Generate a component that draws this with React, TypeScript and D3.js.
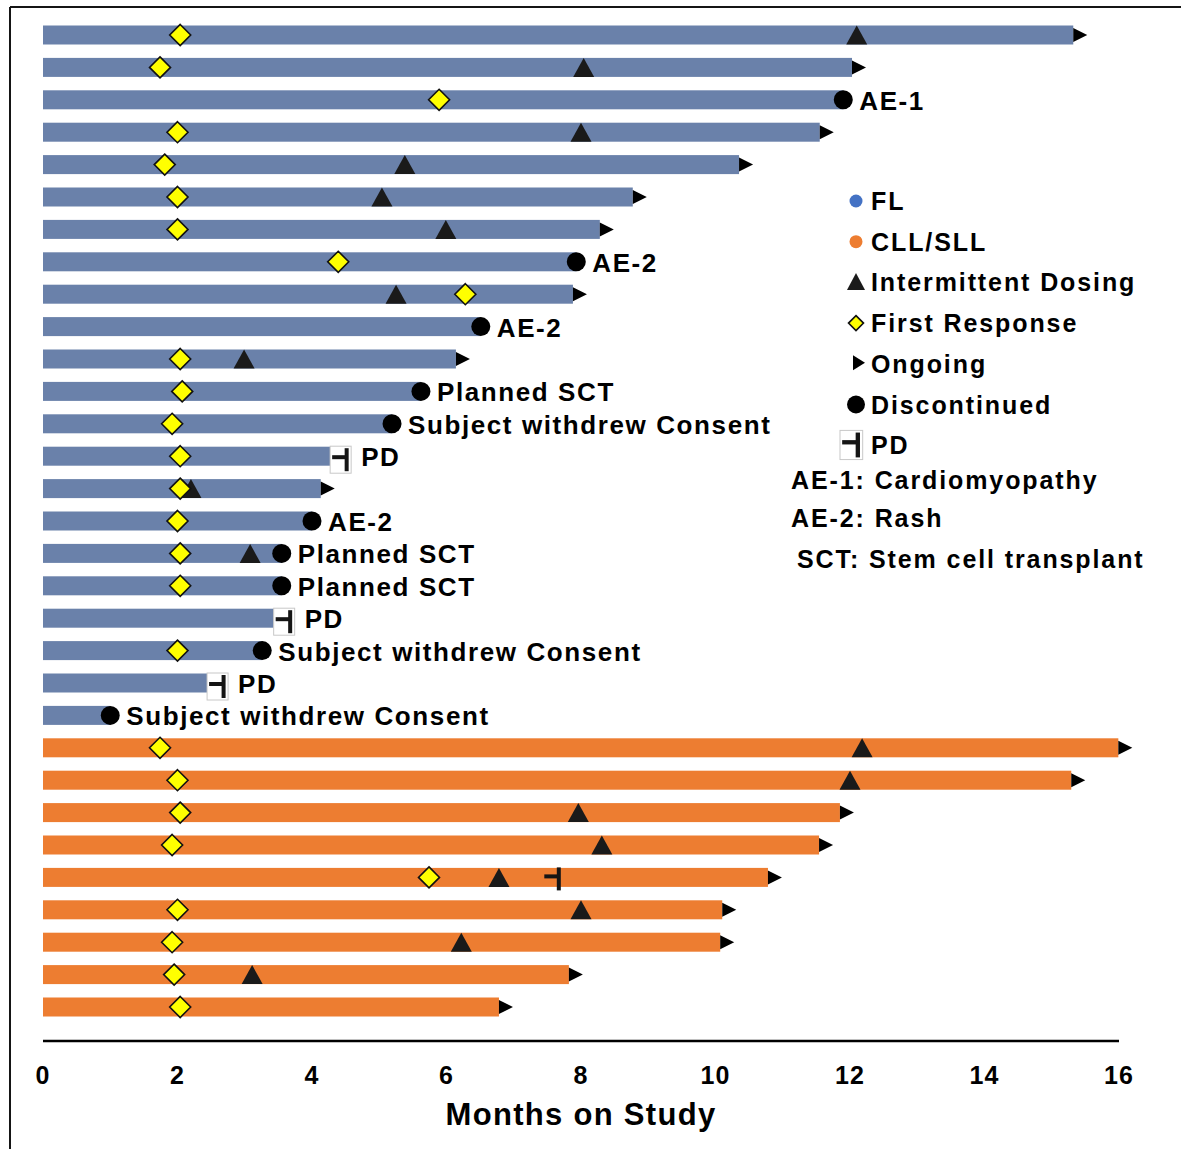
import React from "react";
import * as d3 from "d3";

// ---- Data ----
const groups = [
  "FL","FL","FL","FL","FL","FL","FL","FL","FL","FL","FL",
  "FL","FL","FL","FL","FL","FL","FL","FL","FL","FL","FL",
  "CLL/SLL","CLL/SLL","CLL/SLL","CLL/SLL","CLL/SLL","CLL/SLL","CLL/SLL","CLL/SLL","CLL/SLL",
];
const monthsOnStudy = [
  15.32, 12.03, 11.9, 11.55, 10.35, 8.77, 8.28, 7.93, 7.88, 6.51, 6.14,
  5.62, 5.19, 4.27, 4.13, 4.0, 3.55, 3.55, 3.43, 3.26, 2.44, 1.0,
  15.99, 15.29, 11.85, 11.54, 10.78, 10.1, 10.07, 7.82, 6.78,
];
const firstResponse: (number | null)[] = [
  2.04, 1.74, 5.89, 2.0, 1.81, 2.0, 2.0, 4.39, 6.28, null, 2.04,
  2.07, 1.92, 2.04, 2.04, 2.0, 2.04, 2.04, null, 2.0, null, null,
  1.74, 2.0, 2.04, 1.92, 5.74, 2.0, 1.92, 1.95, 2.04,
];
const intermittentDosing: (number | null)[] = [
  12.1, 8.04, null, 8.0, 5.38, 5.04, 5.99, null, 5.25, null, 2.99,
  null, null, null, 2.2, null, 3.08, null, null, null, null, null,
  12.18, 12.0, 7.96, 8.31, 6.78, 8.0, 6.22, 3.11, null,
];
const progression: (number | null)[] = [
  null, null, null, null, null, null, null, null, null, null, null,
  null, null, 4.27, null, null, null, null, 3.43, null, 2.44, null,
  null, null, null, null, 7.67, null, null, null, null,
];
// "ongoing" | "discontinued" | "pd"
const endStatus = [
  "ongoing","ongoing","discontinued","ongoing","ongoing","ongoing","ongoing","discontinued","ongoing","discontinued","ongoing",
  "discontinued","discontinued","pd","ongoing","discontinued","discontinued","discontinued","pd","discontinued","pd","discontinued",
  "ongoing","ongoing","ongoing","ongoing","ongoing","ongoing","ongoing","ongoing","ongoing",
];
const endLabels = [
  "", "", "AE-1", "", "", "", "", "AE-2", "", "AE-2", "",
  "Planned SCT", "Subject withdrew Consent", "PD", "", "AE-2", "Planned SCT", "Planned SCT", "PD", "Subject withdrew Consent", "PD", "Subject withdrew Consent",
  "", "", "", "", "", "", "", "", "",
];
const xTicks = [0, 2, 4, 6, 8, 10, 12, 14, 16];
const legendItems = ["FL", "CLL/SLL", "Intermittent Dosing", "First Response", "Ongoing", "Discontinued", "PD"];
const footnotes = ["AE-1: Cardiomyopathy", "AE-2: Rash", "SCT: Stem cell transplant"];

// ---- Styles ----
const W = 1181, H = 1149;
const FONT = "'Liberation Sans', Arial, Helvetica, sans-serif";
const barColor: Record<string, string> = { FL: "#6A81AA", "CLL/SLL": "#ED7D31" };
const legendDot: Record<string, string> = { FL: "#4472C4", "CLL/SLL": "#ED7D31" };
const DARK = "#151515";

const x = d3.scaleLinear().domain([0, 16]).range([43, 1119]);
const y = d3.scalePoint<number>().domain(d3.range(monthsOnStudy.length)).range([35, 1007]);
const BAR_H = 19;

function diamondPath(cx: number, cy: number, r: number) {
  return `M${cx},${cy - r}L${cx + r},${cy}L${cx},${cy + r}L${cx - r},${cy}Z`;
}
function trianglePath(cx: number, cy: number, w: number, h: number) {
  return `M${cx - w / 2},${cy + h / 2}L${cx + w / 2},${cy + h / 2}L${cx},${cy - h / 2}Z`;
}
function arrowPath(x0: number, cy: number, w: number, h: number) {
  return `M${x0},${cy - h / 2}L${x0 + w},${cy}L${x0},${cy + h / 2}Z`;
}

function PDGlyph({ x0, cy, boxed, scale = 1 }: { x0: number; cy: number; boxed: boolean; scale?: number }) {
  const s = scale;
  return (
    <g>
      {boxed && (
        <rect x={x0} y={cy - 10 * s} width={21 * s} height={27 * s} fill="#fff" stroke="#c8c8c8" strokeWidth={1} />
      )}
      <rect x={x0 + 2 * s} y={cy - 1 * s} width={14 * s} height={4 * s} fill={DARK} />
      <rect x={x0 + 14.5 * s} y={cy - 8 * s} width={4 * s} height={23 * s} fill={DARK} />
    </g>
  );
}

export default function App() {
  const rows = d3.range(monthsOnStudy.length);
  const labelStyle: React.CSSProperties = { fontFamily: FONT, fontWeight: 700, fontSize: 26, letterSpacing: 1.6 };
  const legendStyle: React.CSSProperties = { fontFamily: FONT, fontWeight: 700, fontSize: 25, letterSpacing: 1.9 };
  return (
    <svg width={W} height={H} style={{ position: "absolute", left: 0, top: 0, background: "#fff" }}>
      <rect x={0} y={0} width={W} height={H} fill="#fff" />
      {/* frame */}
      <line x1={10} y1={7} x2={W} y2={7} stroke={DARK} strokeWidth={2} />
      <line x1={10} y1={7} x2={10} y2={H} stroke={DARK} strokeWidth={2} />

      {/* bars */}
      {rows.map((i) => (
        <rect key={"b" + i} x={x(0)} y={y(i)! - BAR_H / 2} width={x(monthsOnStudy[i]) - x(0)} height={BAR_H}
          fill={barColor[groups[i]]} />
      ))}

      {/* end markers */}
      {rows.map((i) => {
        const cy = y(i)!;
        const xe = x(monthsOnStudy[i]);
        const st = endStatus[i];
        if (st === "ongoing") return <path key={"e" + i} d={arrowPath(xe, cy, 14, 14)} fill="#000" />;
        if (st === "discontinued") return <circle key={"e" + i} cx={xe} cy={cy} r={9.5} fill="#000" />;
        return null;
      })}

      {/* progression */}
      {rows.map((i) => {
        const p = progression[i];
        if (p == null) return null;
        const cy = y(i)!;
        if (p >= monthsOnStudy[i]) return <PDGlyph key={"p" + i} x0={x(p)} cy={cy} boxed={true} />;
        return <PDGlyph key={"p" + i} x0={x(p) - 16.5} cy={cy - 2} boxed={false} />;
      })}

      {/* intermittent dosing */}
      {rows.map((i) => {
        const v = intermittentDosing[i];
        if (v == null) return null;
        return <path key={"t" + i} d={trianglePath(x(v), y(i)!, 21, 19)} fill="#1a1a1a" />;
      })}

      {/* first response */}
      {rows.map((i) => {
        const v = firstResponse[i];
        if (v == null) return null;
        return <path key={"d" + i} d={diamondPath(x(v), y(i)!, 10.5)} fill="#FFFF00" stroke="#111" strokeWidth={1.6} />;
      })}

      {/* end labels */}
      {rows.map((i) => {
        const lab = endLabels[i];
        if (!lab) return null;
        const xe = x(monthsOnStudy[i]);
        const off = endStatus[i] === "pd" ? 31 : 16;
        return (
          <text key={"l" + i} x={xe + off} y={y(i)! + 10} style={labelStyle} fill="#000">{lab}</text>
        );
      })}

      {/* axis */}
      <line x1={x(0)} x2={x(16)} y1={1041} y2={1041} stroke="#000" strokeWidth={2.5} />
      {xTicks.map((t) => (
        <text key={"x" + t} x={x(t)} y={1084} textAnchor="middle"
          style={{ fontFamily: FONT, fontWeight: 700, fontSize: 25, letterSpacing: 1 }} fill="#000">{t}</text>
      ))}
      <text x={581} y={1125} textAnchor="middle"
        style={{ fontFamily: FONT, fontWeight: 700, fontSize: 31, letterSpacing: 1.3 }} fill="#000">Months on Study</text>

      {/* legend */}
      {legendItems.map((item, k) => {
        const cy = 201 + k * 40.7;
        const mx = 856;
        let marker: React.ReactNode = null;
        if (k === 0 || k === 1) marker = <circle cx={mx} cy={cy} r={6.5} fill={legendDot[item]} />;
        else if (k === 2) marker = <path d={trianglePath(mx, cy - 1, 18, 17)} fill="#1a1a1a" />;
        else if (k === 3) marker = <path d={diamondPath(mx, cy, 7.5)} fill="#FFFF00" stroke="#111" strokeWidth={1.6} />;
        else if (k === 4) marker = <path d={arrowPath(853, cy - 1, 12, 15)} fill="#000" />;
        else if (k === 5) marker = <circle cx={mx} cy={cy} r={9} fill="#000" />;
        else marker = <PDGlyph x0={840} cy={cy - 4} boxed={true} scale={1.08} />;
        return (
          <g key={"lg" + k}>
            {marker}
            <text x={871} y={cy + 9} style={legendStyle} fill="#000">{item}</text>
          </g>
        );
      })}
      {footnotes.map((f, k) => (
        <text key={"f" + k} x={k === 2 ? 797 : 791} y={[480, 518, 559][k] + 9} style={legendStyle} fill="#000">{f}</text>
      ))}
    </svg>
  );
}
